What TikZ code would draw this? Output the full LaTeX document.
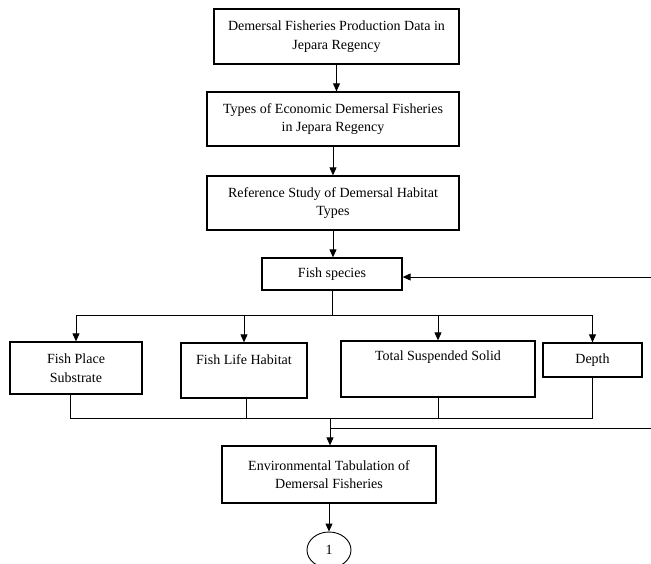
\documentclass[tikz,border=0pt]{standalone}
\usepackage{fontspec}
\setmainfont{Liberation Serif}
\usetikzlibrary{arrows.meta,shapes.geometric,calc}
\begin{document}
\begin{tikzpicture}[x=1pt,y=-1pt,
  box/.style={draw, line width=1.3pt, inner sep=0pt, align=center,
    font=\fontsize{14}{18.5}\selectfont},
  txt/.style={inner sep=0pt, align=center, font=\fontsize{14}{18.5}\selectfont},
  conn/.style={line width=0.9pt},
  arr/.style={line width=0.9pt, -{Triangle[length=8pt,width=7pt]}}]
\useasboundingbox (0,0) rectangle (651,563);
% main chain
\node[box, minimum width=245, minimum height=55] (b1) at (336.5,36.5)
  {Demersal Fisheries Production Data in\\Jepara Regency};
\node[box, minimum width=252, minimum height=54] (b2) at (333,119)
  {Types of Economic Demersal Fisheries\\in Jepara Regency};
\node[box, minimum width=252, minimum height=54] (b3) at (333,203)
  {Reference Study of Demersal Habitat\\Types};
\node[box, minimum width=140, minimum height=32] (fs) at (332,274) {Fish species};
% parameter boxes
\node[box, minimum width=132, minimum height=52] (fps) at (76,368)
  {Fish Place\\Substrate};
\node[box, minimum width=126, minimum height=55] (flh) at (244,370.5) {};
\node[txt] (flht) at (244,360) {Fish Life Habitat};
\node[box, minimum width=194, minimum height=56] (tss) at (438,369) {};
\node[txt] (tsst) at (438,357) {Total Suspended Solid};
\node[box, minimum width=99, minimum height=34] (dep) at (592.5,360) {Depth};
% result
\node[box, minimum width=214, minimum height=57] (env) at (329,474.5)
  {Environmental Tabulation of\\Demersal Fisheries};
\node[draw, ellipse, line width=0.9pt, inner sep=0pt, minimum width=44, minimum height=36,
  font=\fontsize{14}{18.5}\selectfont] (one) at (329,550) {1};
% coordinates
\coordinate (busT) at (331,315);
\coordinate (busB) at (330,418);
\coordinate (fbR) at (651,277);
\coordinate (fb2L) at (330,428);
\coordinate (fb2R) at (651,428);
% connectors
\draw[arr] (b1.south) -- (b1.south |- b2.north);
\draw[arr] (b2.south) -- (b2.south |- b3.north);
\draw[arr] (b3.south) -- (b3.south |- fs.north);
\draw[arr] (fbR) -- (fbR -| fs.east);
\draw[conn] (fs.south) -- (fs.south |- busT);
\draw[conn] (fps.north |- busT) -- (dep.north |- busT);
\draw[arr] (fps.north |- busT) -- (fps.north);
\draw[arr] (flh.north |- busT) -- (flh.north);
\draw[arr] (tss.north |- busT) -- (tss.north);
\draw[arr] (dep.north |- busT) -- (dep.north);
\draw[conn] ([xshift=-6pt]fps.south) -- ([xshift=-6pt]fps.south |- busB);
\draw[conn] ([xshift=2pt]flh.south) -- ([xshift=2pt]flh.south |- busB);
\draw[conn] (tss.south) -- (tss.south |- busB);
\draw[conn] (dep.south) -- (dep.south |- busB);
\draw[conn] ([xshift=-6pt]fps.south |- busB) -- (dep.south |- busB);
\draw[arr] (busB) -- (busB |- env.north);
\draw[conn] (fb2L) -- (fb2R);
\draw[arr] (env.south) -- (one.north);
\end{tikzpicture}
\end{document}
